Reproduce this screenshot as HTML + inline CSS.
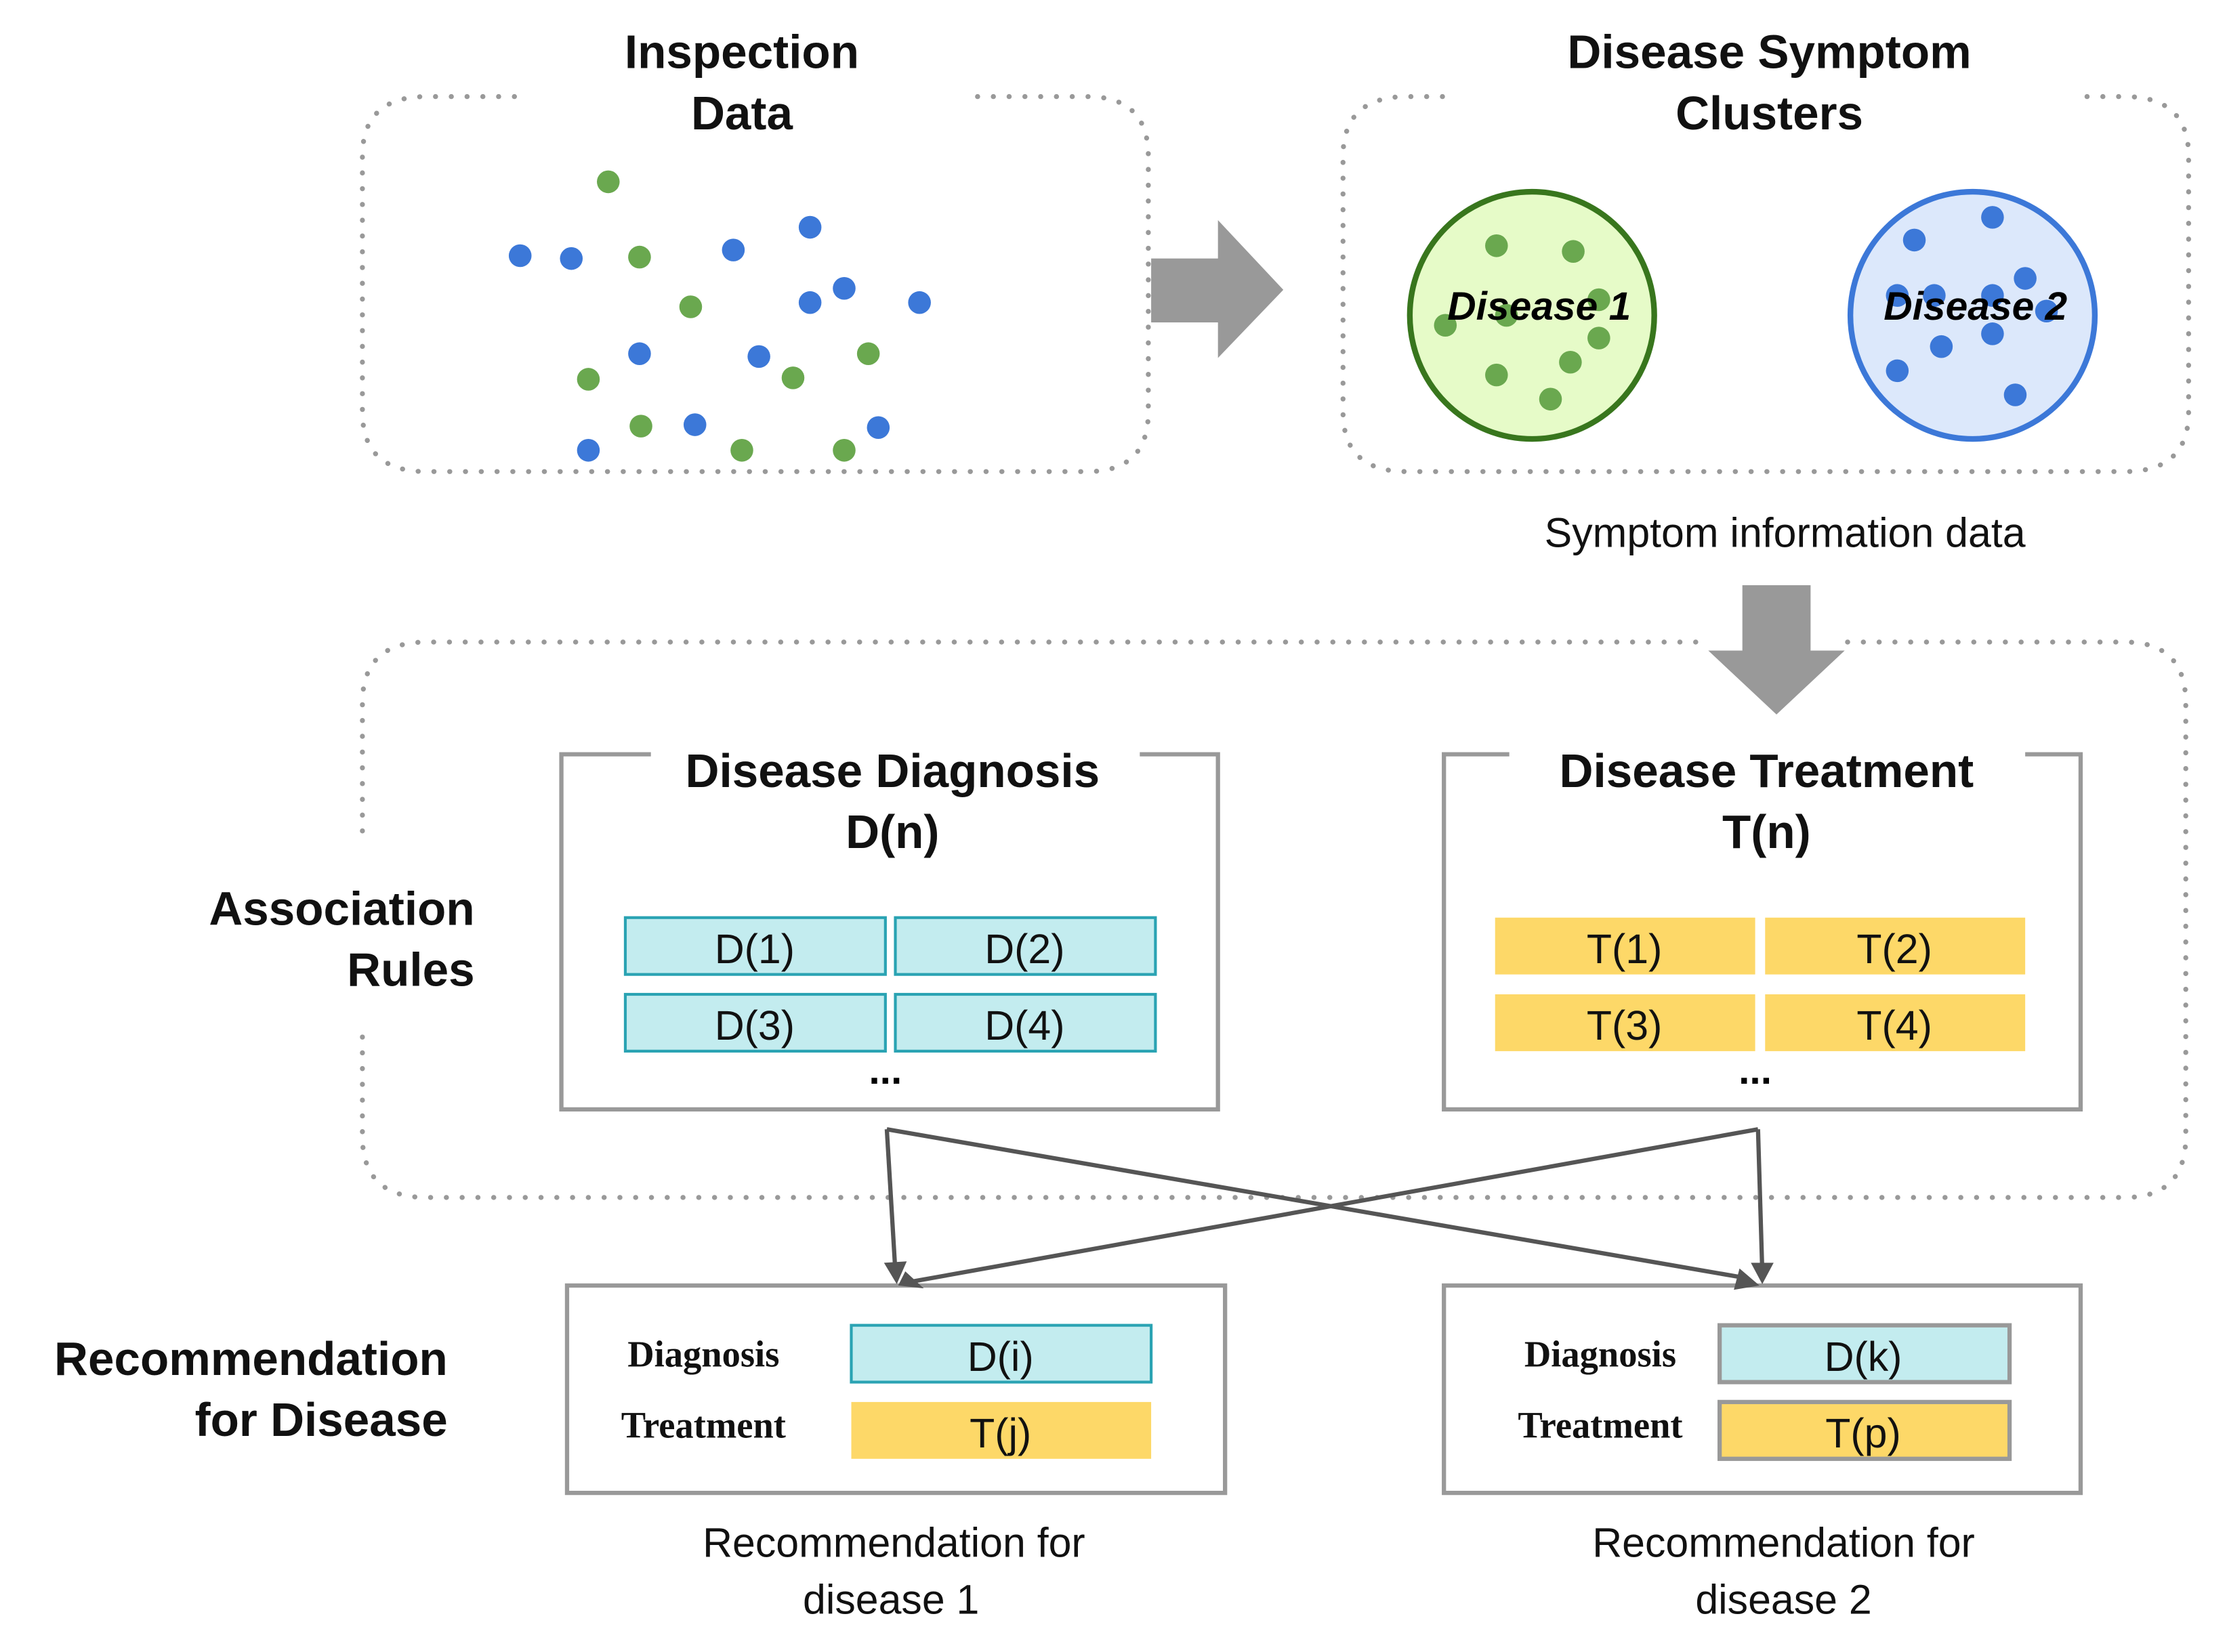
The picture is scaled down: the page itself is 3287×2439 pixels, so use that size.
<!DOCTYPE html>
<html><head><meta charset="utf-8"><style>
html,body{margin:0;padding:0;background:#fff;}
svg{display:block;}
text{font-family:"Liberation Sans",sans-serif;}
.t{font-weight:bold;font-size:33px;fill:#111;}
.c{font-size:29px;fill:#111;}
.s{font-family:"Liberation Serif",serif;font-weight:bold;font-size:26px;fill:#111;}
</style></head><body>
<svg width="3287" height="2439" viewBox="0 0 1567 1163" preserveAspectRatio="none" xmlns="http://www.w3.org/2000/svg">
<g fill="none" stroke="#999" stroke-width="3.5" stroke-dasharray="0.1 11" stroke-linecap="round">
<path d="M362 68 H300 Q255 68 255 110 V290 Q255 332 300 332 H765 Q808 332 808 290 V110 Q808 68 765 68 H680"/>
<path d="M1015 68 H990 Q945 68 945 110 V290 Q945 332 990 332 H1495 Q1540 332 1540 290 V110 Q1540 68 1495 68 H1465"/>
<path d="M255 585 V495 Q255 452 300 452 H1200 M1300 452 H1495 Q1538 452 1538 495 V800 Q1538 843 1495 843 H300 Q255 843 255 800 V730"/>
</g>
<text class="t" x="522" y="48" text-anchor="middle">Inspection</text>
<text class="t" x="522" y="91" text-anchor="middle">Data</text>
<text class="t" x="1245" y="48" text-anchor="middle">Disease Symptom</text>
<text class="t" x="1245" y="91" text-anchor="middle">Clusters</text>
<g fill="#3c78d8">
<circle cx="366" cy="180" r="8"/><circle cx="402" cy="182" r="8"/><circle cx="516" cy="176" r="8"/><circle cx="570" cy="160" r="8"/><circle cx="570" cy="213" r="8"/><circle cx="594" cy="203" r="8"/><circle cx="647" cy="213" r="8"/><circle cx="450" cy="249" r="8"/><circle cx="534" cy="251" r="8"/><circle cx="489" cy="299" r="8"/><circle cx="618" cy="301" r="8"/><circle cx="414" cy="317" r="8"/>
</g>
<g fill="#6aa84f">
<circle cx="428" cy="128" r="8"/><circle cx="450" cy="181" r="8"/><circle cx="486" cy="216" r="8"/><circle cx="611" cy="249" r="8"/><circle cx="414" cy="267" r="8"/><circle cx="558" cy="266" r="8"/><circle cx="451" cy="300" r="8"/><circle cx="522" cy="317" r="8"/><circle cx="594" cy="317" r="8"/>
</g>
<polygon points="810,182 857,182 857,155 903,204 857,252 857,227 810,227" fill="#999"/>
<ellipse cx="1078" cy="222" rx="86" ry="87" fill="#e6fbc8" stroke="#38761d" stroke-width="4"/>
<g fill="#6aa84f"><circle cx="1053" cy="173" r="8"/><circle cx="1107" cy="177" r="8"/><circle cx="1125" cy="211" r="8"/><circle cx="1017" cy="229" r="8"/><circle cx="1060" cy="222" r="8"/><circle cx="1125" cy="238" r="8"/><circle cx="1105" cy="255" r="8"/><circle cx="1053" cy="264" r="8"/><circle cx="1091" cy="281" r="8"/></g>
<text x="1083" y="225" text-anchor="middle" style="font-weight:bold;font-style:italic;font-size:28px">Disease 1</text>
<ellipse cx="1388" cy="222" rx="86" ry="87" fill="#dce8fb" stroke="#3c78d8" stroke-width="4"/>
<g fill="#3c78d8"><circle cx="1402" cy="153" r="8"/><circle cx="1347" cy="169" r="8"/><circle cx="1425" cy="196" r="8"/><circle cx="1335" cy="208" r="8"/><circle cx="1361" cy="208" r="8"/><circle cx="1402" cy="208" r="8"/><circle cx="1440" cy="219" r="8"/><circle cx="1402" cy="235" r="8"/><circle cx="1366" cy="244" r="8"/><circle cx="1335" cy="261" r="8"/><circle cx="1418" cy="278" r="8"/></g>
<text x="1390" y="225" text-anchor="middle" style="font-weight:bold;font-style:italic;font-size:28px">Disease 2</text>
<text class="c" x="1256" y="385" text-anchor="middle">Symptom information data</text>
<polygon points="1226,412 1274,412 1274,458 1298,458 1250,503 1202,458 1226,458" fill="#999"/>
<text class="t" x="334" y="651" text-anchor="end">Association</text>
<text class="t" x="334" y="694" text-anchor="end">Rules</text>
<g fill="none" stroke="#999" stroke-width="3">
<path d="M458 531 H395 V781 H857 V531 H802"/>
<path d="M1062 531 H1016 V781 H1464 V531 H1425"/>
<rect x="399" y="905" width="463" height="146"/>
<rect x="1016" y="905" width="448" height="146"/>
</g>
<text class="t" x="628" y="554" text-anchor="middle">Disease Diagnosis</text>
<text class="t" x="628" y="597" text-anchor="middle">D(n)</text>
<text class="t" x="1243" y="554" text-anchor="middle">Disease Treatment</text>
<text class="t" x="1243" y="597" text-anchor="middle">T(n)</text>
<g fill="#c3ecef" stroke="#2aa3b3" stroke-width="2">
<rect x="440" y="646" width="183" height="40"/><rect x="630" y="646" width="183" height="40"/>
<rect x="440" y="700" width="183" height="40"/><rect x="630" y="700" width="183" height="40"/>
</g>
<g fill="#fdd868">
<rect x="1052" y="646" width="183" height="40"/><rect x="1242" y="646" width="183" height="40"/>
<rect x="1052" y="700" width="183" height="40"/><rect x="1242" y="700" width="183" height="40"/>
</g>
<text class="c" x="531" y="678" text-anchor="middle">D(1)</text><text class="c" x="721" y="678" text-anchor="middle">D(2)</text>
<text class="c" x="531" y="732" text-anchor="middle">D(3)</text><text class="c" x="721" y="732" text-anchor="middle">D(4)</text>
<text class="c" x="1143" y="678" text-anchor="middle">T(1)</text><text class="c" x="1333" y="678" text-anchor="middle">T(2)</text>
<text class="c" x="1143" y="732" text-anchor="middle">T(3)</text><text class="c" x="1333" y="732" text-anchor="middle">T(4)</text>
<text x="623" y="763" text-anchor="middle" style="font-weight:bold;font-size:28px">...</text>
<text x="1235" y="763" text-anchor="middle" style="font-weight:bold;font-size:28px">...</text>
<g stroke="#555" stroke-width="3" fill="none">
<path d="M624 795 L630 895"/><path d="M624 795 L1230 900"/>
<path d="M1237 795 L1240 895"/><path d="M1237 795 L643 902"/>
</g>
<g fill="#555">
<polygon points="622,889 638,888 631,904"/>
<polygon points="1232,889 1248,889 1240,904"/>
<polygon points="637,895 650,907 632,905"/>
<polygon points="1224,893 1238,905 1220,908"/>
</g>
<text class="t" x="315" y="968" text-anchor="end">Recommendation</text>
<text class="t" x="315" y="1011" text-anchor="end">for Disease</text>
<rect x="599" y="933" width="211" height="40" fill="#c3ecef" stroke="#2aa3b3" stroke-width="2"/>
<rect x="599" y="987" width="211" height="40" fill="#fdd868"/>
<rect x="1210" y="933" width="204" height="40" fill="#c3ecef" stroke="#999" stroke-width="3"/>
<rect x="1210" y="987" width="204" height="40" fill="#fdd868" stroke="#999" stroke-width="3"/>
<text class="s" x="495" y="962" text-anchor="middle">Diagnosis</text>
<text class="s" x="495" y="1012" text-anchor="middle">Treatment</text>
<text class="s" x="1126" y="962" text-anchor="middle">Diagnosis</text>
<text class="s" x="1126" y="1012" text-anchor="middle">Treatment</text>
<text class="c" x="704" y="965" text-anchor="middle">D(i)</text>
<text class="c" x="704" y="1019" text-anchor="middle">T(j)</text>
<text class="c" x="1311" y="965" text-anchor="middle">D(k)</text>
<text class="c" x="1311" y="1019" text-anchor="middle">T(p)</text>
<text class="c" x="629" y="1096" text-anchor="middle">Recommendation for</text>
<text class="c" x="627" y="1136" text-anchor="middle">disease 1</text>
<text class="c" x="1255" y="1096" text-anchor="middle">Recommendation for</text>
<text class="c" x="1255" y="1136" text-anchor="middle">disease 2</text>
</svg>
</body></html>
